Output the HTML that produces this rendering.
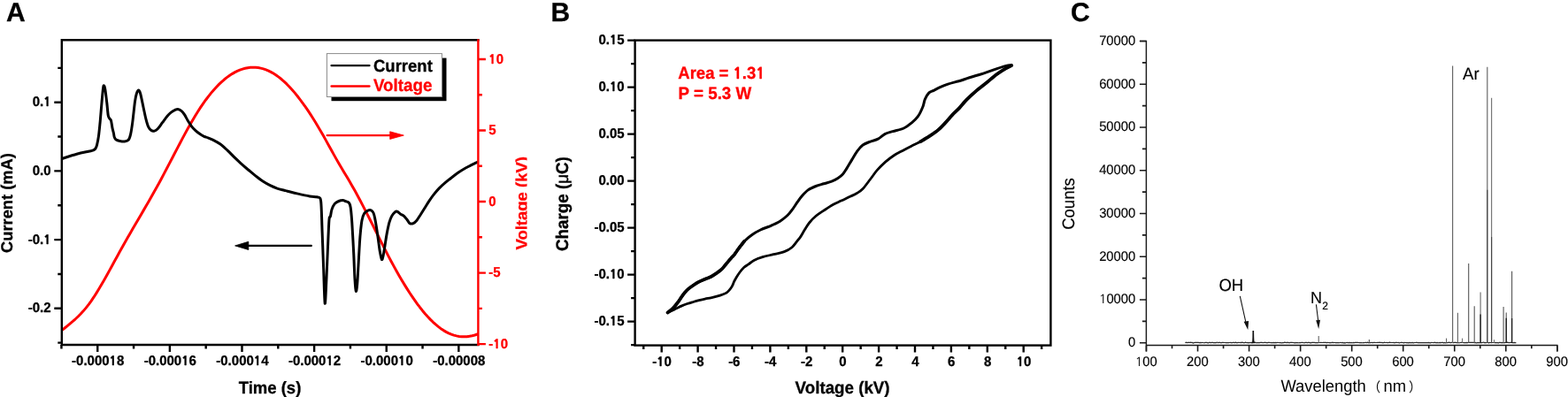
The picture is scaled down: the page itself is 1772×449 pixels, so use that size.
<!DOCTYPE html>
<html><head><meta charset="utf-8"><style>
html,body{margin:0;padding:0;background:#fff;width:1772px;height:449px;overflow:hidden}
svg{display:block}
</style></head><body>
<svg width="1772" height="449" viewBox="0 0 1772 449" text-rendering="geometricPrecision">
<rect width="1772" height="449" fill="#fff"/>
<text transform="translate(7,23.9) scale(1,1.0)" font-family="Liberation Sans, Arial, sans-serif" font-weight="bold" font-size="30" stroke="#000" stroke-width="0.3">A</text>
<clipPath id="ca"><rect x="69.8" y="45.3" width="470.59999999999997" height="344.7"/></clipPath>
<g clip-path="url(#ca)" fill="none" stroke-linejoin="round" stroke-linecap="round">
<path d="M70.5,373.14 L73.45,370.73 L76.4,368.32 L79.35,365.88 L82.3,363.38 L85.25,360.76 L88.2,357.99 L91.15,355.03 L94.1,351.85 L97.05,348.39 L100,344.62 L102.95,340.55 L105.9,336.21 L108.85,331.63 L111.8,326.83 L114.75,321.85 L117.69,316.72 L120.64,311.47 L123.59,306.14 L126.54,300.74 L129.49,295.32 L132.44,289.91 L135.39,284.53 L138.34,279.22 L141.29,273.98 L144.24,268.81 L147.19,263.68 L150.14,258.59 L153.09,253.53 L156.04,248.48 L158.99,243.43 L161.94,238.38 L164.89,233.3 L167.84,228.19 L170.79,223.03 L173.74,217.82 L176.69,212.53 L179.64,207.17 L182.59,201.71 L185.54,196.16 L188.49,190.55 L191.44,184.89 L194.39,179.2 L197.34,173.51 L200.29,167.84 L203.24,162.21 L206.19,156.64 L209.14,151.15 L212.08,145.76 L215.03,140.51 L217.98,135.4 L220.93,130.46 L223.88,125.71 L226.83,121.17 L229.78,116.84 L232.73,112.73 L235.68,108.83 L238.63,105.15 L241.58,101.69 L244.53,98.45 L247.48,95.42 L250.43,92.61 L253.38,90.02 L256.33,87.65 L259.28,85.5 L262.23,83.58 L265.18,81.87 L268.13,80.39 L271.08,79.13 L274.03,78.09 L276.98,77.28 L279.93,76.69 L282.88,76.32 L285.83,76.19 L288.78,76.28 L291.73,76.6 L294.68,77.14 L297.63,77.92 L300.58,78.92 L303.53,80.15 L306.47,81.61 L309.42,83.31 L312.37,85.23 L315.32,87.39 L318.27,89.78 L321.22,92.38 L324.17,95.2 L327.12,98.23 L330.07,101.46 L333.02,104.89 L335.97,108.5 L338.92,112.3 L341.87,116.27 L344.82,120.41 L347.77,124.72 L350.72,129.18 L353.67,133.79 L356.62,138.55 L359.57,143.44 L362.52,148.47 L365.47,153.62 L368.42,158.88 L371.37,164.22 L374.32,169.57 L377.27,174.89 L380.22,180.12 L383.17,185.21 L386.12,190.21 L389.07,195.16 L392.02,200.1 L394.97,205.08 L397.92,210.15 L400.86,215.36 L403.81,220.72 L406.76,226.22 L409.71,231.85 L412.66,237.57 L415.61,243.38 L418.56,249.24 L421.51,255.13 L424.46,261.05 L427.41,266.95 L430.36,272.84 L433.31,278.67 L436.26,284.44 L439.21,290.12 L442.16,295.69 L445.11,301.14 L448.06,306.47 L451.01,311.66 L453.96,316.72 L456.91,321.63 L459.86,326.39 L462.81,330.99 L465.76,335.43 L468.71,339.7 L471.66,343.79 L474.61,347.7 L477.56,351.42 L480.51,354.95 L483.46,358.27 L486.41,361.38 L489.36,364.29 L492.31,366.97 L495.25,369.42 L498.2,371.64 L501.15,373.62 L504.1,375.36 L507.05,376.85 L510,378.09 L512.95,379.1 L515.9,379.87 L518.85,380.41 L521.8,380.72 L524.75,380.81 L527.7,380.68 L530.65,380.32 L533.6,379.76 L536.55,378.98 L539.5,377.99" stroke="#ff0000" stroke-width="3.0"/>
<path d="M69.7,179.6 C72.53,178.7 81.65,175.6 86.7,174.2 C91.75,172.8 97.12,171.83 100,171.2 C102.88,170.57 102.9,170.72 104,170.4 C105.1,170.08 105.9,169.8 106.6,169.3 C107.3,168.8 107.72,168.25 108.2,167.4 C108.68,166.55 108.97,166.38 109.5,164.2 C110.03,162.02 110.78,158.78 111.4,154.3 C112.02,149.82 112.58,143.92 113.2,137.3 C113.82,130.68 114.53,120.9 115.1,114.6 C115.67,108.3 116.18,102.47 116.6,99.5 C117.02,96.53 117.22,96.48 117.6,96.8 C117.98,97.12 118.37,98.12 118.9,101.4 C119.43,104.68 120.23,111.62 120.8,116.5 C121.37,121.38 121.73,127.7 122.3,130.7 C122.87,133.7 123.67,133.57 124.2,134.5 C124.73,135.43 125.03,134.57 125.5,136.3 C125.97,138.03 126.52,142.53 127,144.9 C127.48,147.27 128.02,148.77 128.4,150.5 C128.78,152.23 128.83,154.03 129.3,155.3 C129.77,156.57 130.2,157.4 131.2,158.1 C132.2,158.8 133.68,159.18 135.3,159.5 C136.92,159.82 139.22,160.25 140.9,160 C142.58,159.75 144.27,159.43 145.4,158 C146.53,156.57 146.97,154.72 147.7,151.4 C148.43,148.08 149,144.18 149.8,138.1 C150.6,132.02 151.75,120.25 152.5,114.9 C153.25,109.55 153.62,108.13 154.3,106 C154.98,103.87 155.87,102.1 156.6,102.1 C157.33,102.1 157.78,102.73 158.7,106 C159.62,109.27 161.08,117 162.1,121.7 C163.12,126.4 163.9,130.63 164.8,134.2 C165.7,137.77 166.47,140.87 167.5,143.1 C168.53,145.33 169.82,146.77 171,147.6 C172.18,148.43 173.4,148.4 174.6,148.1 C175.8,147.8 176.72,147.37 178.2,145.8 C179.68,144.23 181.72,141.08 183.5,138.7 C185.28,136.32 187.27,133.43 188.9,131.5 C190.53,129.57 191.82,128.28 193.3,127.1 C194.78,125.92 196.52,125 197.8,124.4 C199.08,123.8 199.82,123.35 201,123.5 C202.18,123.65 203.65,124.27 204.9,125.3 C206.15,126.33 207.32,127.92 208.5,129.7 C209.68,131.48 210.67,133.82 212,136 C213.33,138.18 215.02,140.87 216.5,142.8 C217.98,144.73 219.27,146.12 220.9,147.6 C222.53,149.08 224.67,150.58 226.3,151.7 C227.93,152.82 229.25,153.62 230.7,154.3 C232.15,154.98 233.28,155.12 235,155.8 C236.72,156.48 238.67,157.2 241,158.4 C243.33,159.6 246.32,161.05 249,163 C251.68,164.95 254.42,167.58 257.1,170.1 C259.78,172.62 262.43,175.5 265.1,178.1 C267.77,180.7 270.43,183.3 273.1,185.7 C275.77,188.1 278.43,190.27 281.1,192.5 C283.77,194.73 286.43,197 289.1,199.1 C291.77,201.2 294.42,203.33 297.1,205.1 C299.78,206.87 302.52,208.37 305.2,209.7 C307.88,211.03 310.53,212.18 313.2,213.1 C315.87,214.02 319.23,214.68 321.2,215.2 C323.17,215.72 322.42,215.55 325,216.2 C327.58,216.85 332.53,218.15 336.7,219.1 C340.87,220.05 346.48,221.28 350,221.9 C353.52,222.52 355.82,222.38 357.8,222.8 C359.78,223.22 361.02,222.57 361.9,224.4 C362.78,226.23 362.73,227.55 363.1,233.8 C363.47,240.05 363.68,250.45 364.1,261.9 C364.52,273.35 365.08,288.97 365.6,302.5 C366.12,316.03 366.67,340.5 367.2,343.1 C367.73,345.7 368.28,327.98 368.8,318.1 C369.32,308.22 369.78,295.25 370.3,283.8 C370.82,272.35 371.38,255.92 371.9,249.4 C372.42,242.88 372.88,246.78 373.4,244.7 C373.92,242.62 374.22,239.25 375,236.9 C375.78,234.55 376.8,232.17 378.1,230.6 C379.4,229.03 381.23,228.17 382.8,227.5 C384.37,226.83 386.25,226.6 387.5,226.6 C388.75,226.6 389.17,227.05 390.3,227.5 C391.43,227.95 393.32,228.1 394.3,229.3 C395.28,230.5 395.62,230.92 396.2,234.7 C396.78,238.48 397.22,243.33 397.8,252 C398.38,260.67 399.17,276.03 399.7,286.7 C400.23,297.37 400.57,308.9 401,316 C401.43,323.1 401.85,328.42 402.3,329.3 C402.75,330.18 403.25,326.18 403.7,321.3 C404.15,316.42 404.47,308.88 405,300 C405.53,291.12 406.23,276.45 406.9,268 C407.57,259.55 408.2,253.75 409,249.3 C409.8,244.85 410.58,243.17 411.7,241.3 C412.82,239.43 414.42,238.68 415.7,238.1 C416.98,237.52 418.33,237.32 419.4,237.8 C420.47,238.28 421.35,239.28 422.1,241 C422.85,242.72 423.3,245.13 423.9,248.1 C424.5,251.07 425.1,254.93 425.7,258.8 C426.3,262.67 426.92,267.15 427.5,271.3 C428.08,275.45 428.55,280 429.2,283.7 C429.85,287.4 430.75,292.6 431.4,293.5 C432.05,294.4 432.52,291.62 433.1,289.1 C433.68,286.58 434.22,282.57 434.9,278.4 C435.58,274.23 436.37,268.55 437.2,264.1 C438.03,259.65 439,254.95 439.9,251.7 C440.8,248.45 441.57,246.53 442.6,244.6 C443.63,242.67 445.07,241 446.1,240.1 C447.13,239.2 447.75,238.9 448.8,239.2 C449.85,239.5 451.07,241 452.4,241.9 C453.73,242.8 455.47,243.42 456.8,244.6 C458.13,245.78 459.37,247.67 460.4,249 C461.43,250.33 461.9,252 463,252.6 C464.1,253.2 465.67,253.17 467,252.6 C468.33,252.03 469.67,250.77 471,249.2 C472.33,247.63 473.5,245.53 475,243.2 C476.5,240.87 478.32,237.88 480,235.2 C481.68,232.52 483.42,229.62 485.1,227.1 C486.78,224.58 488.27,222.43 490.1,220.1 C491.93,217.77 493.93,215.33 496.1,213.1 C498.27,210.87 500.77,208.7 503.1,206.7 C505.43,204.7 507.6,203.03 510.1,201.1 C512.6,199.17 515.42,196.95 518.1,195.1 C520.78,193.25 523.68,191.45 526.2,190 C528.72,188.55 530.98,187.5 533.2,186.4 C535.42,185.3 538.45,183.9 539.5,183.4" stroke="#000" stroke-width="3.0"/>
</g>
<path d="M540.4,45.3 L69.8,45.3 L69.8,390.0 L540.4,390.0" fill="none" stroke="#000" stroke-width="2.4" stroke-linecap="square"/>
<line x1="540.4" y1="44.3" x2="540.4" y2="391.0" stroke="#ff0000" stroke-width="2.4"/>
<path d="M61.3,115.7 H69.8 M61.3,193.4 H69.8 M61.3,271.1 H69.8 M61.3,348.8 H69.8 M65.3,76.85 H69.8 M65.3,154.55 H69.8 M65.3,232.25 H69.8 M65.3,309.95 H69.8 M65.3,387.65 H69.8 M110.25,390.0 V398.0 M191.87,390.0 V398.0 M273.49,390.0 V398.0 M355.11,390.0 V398.0 M436.73,390.0 V398.0 M518.35,390.0 V398.0 M69.44,390.0 V394.5 M151.06,390.0 V394.5 M232.68,390.0 V394.5 M314.3,390.0 V394.5 M395.92,390.0 V394.5 M477.54,390.0 V394.5" stroke="#000" stroke-width="2.4"/>
<path d="M540.4,67 H548.9 M540.4,147.53 H548.9 M540.4,228.05 H548.9 M540.4,308.58 H548.9 M540.4,389.1 H548.9 M540.4,107.26 H544.9 M540.4,187.79 H544.9 M540.4,268.31 H544.9 M540.4,348.84 H544.9" stroke="#ff0000" stroke-width="2.4"/>
<text transform="translate(57.6,120.1) scale(1,1.04)" font-family="Liberation Sans, Arial, sans-serif" font-weight="bold" font-size="15" text-anchor="end" stroke="#000" stroke-width="0.3">0.<tspan font-family="NanumGothic, sans-serif" font-weight="800" font-size="13.5" letter-spacing="0.16">1</tspan></text>
<text transform="translate(57.6,197.8) scale(1,1.04)" font-family="Liberation Sans, Arial, sans-serif" font-weight="bold" font-size="15" text-anchor="end" stroke="#000" stroke-width="0.3">0.0</text>
<text transform="translate(57.6,275.5) scale(1,1.04)" font-family="Liberation Sans, Arial, sans-serif" font-weight="bold" font-size="15" text-anchor="end" stroke="#000" stroke-width="0.3">-0.<tspan font-family="NanumGothic, sans-serif" font-weight="800" font-size="13.5" letter-spacing="0.16">1</tspan></text>
<text transform="translate(57.6,353.2) scale(1,1.04)" font-family="Liberation Sans, Arial, sans-serif" font-weight="bold" font-size="15" text-anchor="end" stroke="#000" stroke-width="0.3">-0.2</text>
<text transform="translate(110.65,413.2) scale(1,1.04)" font-family="Liberation Sans, Arial, sans-serif" font-weight="bold" font-size="15" text-anchor="middle" stroke="#000" stroke-width="0.3">-0.000<tspan font-family="NanumGothic, sans-serif" font-weight="800" font-size="13.5" letter-spacing="0.16">1</tspan>8</text>
<text transform="translate(192.27,413.2) scale(1,1.04)" font-family="Liberation Sans, Arial, sans-serif" font-weight="bold" font-size="15" text-anchor="middle" stroke="#000" stroke-width="0.3">-0.000<tspan font-family="NanumGothic, sans-serif" font-weight="800" font-size="13.5" letter-spacing="0.16">1</tspan>6</text>
<text transform="translate(273.89,413.2) scale(1,1.04)" font-family="Liberation Sans, Arial, sans-serif" font-weight="bold" font-size="15" text-anchor="middle" stroke="#000" stroke-width="0.3">-0.000<tspan font-family="NanumGothic, sans-serif" font-weight="800" font-size="13.5" letter-spacing="0.16">1</tspan>4</text>
<text transform="translate(355.51,413.2) scale(1,1.04)" font-family="Liberation Sans, Arial, sans-serif" font-weight="bold" font-size="15" text-anchor="middle" stroke="#000" stroke-width="0.3">-0.000<tspan font-family="NanumGothic, sans-serif" font-weight="800" font-size="13.5" letter-spacing="0.16">1</tspan>2</text>
<text transform="translate(437.13,413.2) scale(1,1.04)" font-family="Liberation Sans, Arial, sans-serif" font-weight="bold" font-size="15" text-anchor="middle" stroke="#000" stroke-width="0.3">-0.000<tspan font-family="NanumGothic, sans-serif" font-weight="800" font-size="13.5" letter-spacing="0.16">1</tspan>0</text>
<text transform="translate(518.75,413.2) scale(1,1.04)" font-family="Liberation Sans, Arial, sans-serif" font-weight="bold" font-size="15" text-anchor="middle" stroke="#000" stroke-width="0.3">-0.00008</text>
<text transform="translate(552.3,71.6) scale(1,1.04)" font-family="Liberation Sans, Arial, sans-serif" font-weight="bold" font-size="15" fill="#ff0000" stroke="#ff0000" stroke-width="0.3"><tspan font-family="NanumGothic, sans-serif" font-weight="800" font-size="13.5" letter-spacing="0.16">1</tspan>0</text>
<text transform="translate(552.3,152.12) scale(1,1.04)" font-family="Liberation Sans, Arial, sans-serif" font-weight="bold" font-size="15" fill="#ff0000" stroke="#ff0000" stroke-width="0.3">5</text>
<text transform="translate(552.3,232.65) scale(1,1.04)" font-family="Liberation Sans, Arial, sans-serif" font-weight="bold" font-size="15" fill="#ff0000" stroke="#ff0000" stroke-width="0.3">0</text>
<text transform="translate(552.3,313.18) scale(1,1.04)" font-family="Liberation Sans, Arial, sans-serif" font-weight="bold" font-size="15" fill="#ff0000" stroke="#ff0000" stroke-width="0.3">-5</text>
<text transform="translate(552.3,393.7) scale(1,1.04)" font-family="Liberation Sans, Arial, sans-serif" font-weight="bold" font-size="15" fill="#ff0000" stroke="#ff0000" stroke-width="0.3">-<tspan font-family="NanumGothic, sans-serif" font-weight="800" font-size="13.5" letter-spacing="0.16">1</tspan>0</text>
<text transform="translate(305,444.8) scale(1,1.04)" font-family="Liberation Sans, Arial, sans-serif" font-weight="bold" font-size="18.5" text-anchor="middle" stroke="#000" stroke-width="0.3">Time (s)</text>
<text transform="translate(14,229.6) rotate(-90) scale(1,1.0)" font-family="Liberation Sans, Arial, sans-serif" font-weight="bold" font-size="18.3" text-anchor="middle" stroke="#000" stroke-width="0.3">Current (mA)</text>
<clipPath id="cv"><rect x="560" y="0" width="35.5" height="449"/></clipPath>
<g clip-path="url(#cv)"><text transform="translate(595.8,229.8) rotate(-90) scale(1,1.0)" font-family="Liberation Sans, Arial, sans-serif" font-weight="bold" font-size="18.5" text-anchor="middle" fill="#ff0000" stroke="#ff0000" stroke-width="0.3">Voltage (kV)</text></g>
<rect x="374.5" y="65.6" width="130" height="48.6" fill="#000"/>
<rect x="369.4" y="60.6" width="130" height="48.9" fill="#fff" stroke="#8a8a8a" stroke-width="1"/>
<line x1="374.6" y1="74.1" x2="417.4" y2="74.1" stroke="#000" stroke-width="2.4" stroke-linecap="round"/>
<line x1="374.6" y1="97.5" x2="417.4" y2="97.5" stroke="#ff0000" stroke-width="2.4" stroke-linecap="round"/>
<text transform="translate(422,80.6) scale(1,1.04)" font-family="Liberation Sans, Arial, sans-serif" font-weight="bold" font-size="18.5" stroke="#000" stroke-width="0.3">Current</text>
<text transform="translate(421.9,103.3) scale(1,1.04)" font-family="Liberation Sans, Arial, sans-serif" font-weight="bold" font-size="18.8" fill="#ff0000" stroke="#ff0000" stroke-width="0.3">Voltage</text>
<line x1="369.6" y1="153.1" x2="442" y2="153.1" stroke="#ff0000" stroke-width="2.3" stroke-linecap="round"/>
<path d="M440.7,148.8 L456.3,153.1 L440.7,157.4 Z" fill="#ff0000" stroke="#ff0000" stroke-width="0.8" stroke-linejoin="round"/>
<line x1="279.5" y1="277.9" x2="351.8" y2="277.9" stroke="#000" stroke-width="2.3" stroke-linecap="round"/>
<path d="M280.8,273.3 L265.6,277.9 L280.8,282.5 Z" fill="#000" stroke="#000" stroke-width="0.8" stroke-linejoin="round"/>
<text transform="translate(622.6,23.9) scale(1,1.0)" font-family="Liberation Sans, Arial, sans-serif" font-weight="bold" font-size="30" stroke="#000" stroke-width="0.3">B</text>
<path d="M754.5,353.6 C755.42,352.85 758.08,351.03 760,349.1 C761.92,347.17 764.33,344.17 766,342 C767.67,339.83 768.67,337.97 770,336.1 C771.33,334.23 772.67,332.37 774,330.8 C775.33,329.23 776.43,328.05 778,326.7 C779.57,325.35 781.4,324.03 783.4,322.7 C785.4,321.37 787.78,319.87 790,318.7 C792.22,317.53 794.47,316.65 796.7,315.7 C798.93,314.75 801.17,314.17 803.4,313 C805.63,311.83 808.1,310.08 810.1,308.7 C812.1,307.32 813.85,306.15 815.4,304.7 C816.95,303.25 818.05,301.6 819.4,300 C820.75,298.4 822.15,296.67 823.5,295.1 C824.85,293.53 826.42,291.82 827.5,290.6 C828.58,289.38 828.77,289.42 830,287.8 C831.23,286.18 833.07,283.37 834.9,280.9 C836.73,278.43 838.55,275.53 841,273 C843.45,270.47 846.53,267.87 849.6,265.7 C852.67,263.53 855.72,261.77 859.4,260 C863.08,258.23 868.02,256.73 871.7,255.1 C875.38,253.47 878.45,252.13 881.5,250.2 C884.55,248.27 887.7,245.67 890,243.5 C892.3,241.33 893.52,239.58 895.3,237.2 C897.08,234.82 898.92,231.72 900.7,229.2 C902.48,226.68 903.92,224.48 906,222.1 C908.08,219.72 910.52,216.83 913.2,214.9 C915.88,212.97 919.13,211.68 922.1,210.5 C925.07,209.32 928.03,208.7 931,207.8 C933.97,206.9 937.23,206.13 939.9,205.1 C942.57,204.07 944.92,202.93 947,201.6 C949.08,200.27 950.77,198.93 952.4,197.1 C954.03,195.27 955.05,193.38 956.8,190.6 C958.55,187.82 960.87,183.73 962.9,180.4 C964.93,177.07 966.97,173.33 969,170.6 C971.03,167.87 972.65,165.75 975.1,164 C977.55,162.25 980.83,161.23 983.7,160.1 C986.57,158.97 989.58,158.62 992.3,157.2 C995.02,155.78 997.23,153.03 1000,151.6 C1002.77,150.17 1005.33,149.7 1008.9,148.6 C1012.47,147.5 1017.83,146.63 1021.4,145 C1024.97,143.37 1027.63,141.02 1030.3,138.8 C1032.97,136.58 1035.32,134.67 1037.4,131.7 C1039.48,128.73 1041.47,124.27 1042.8,121 C1044.13,117.73 1044.22,114.78 1045.4,112.1 C1046.58,109.42 1048.27,106.53 1049.9,104.9 C1051.53,103.27 1053.12,103.33 1055.2,102.3 C1057.28,101.27 1059.72,99.9 1062.4,98.7 C1065.08,97.5 1068.37,96.12 1071.3,95.1 C1074.23,94.08 1077.52,93.28 1080,92.6 C1082.48,91.92 1083.6,91.82 1086.2,91 C1088.8,90.18 1091.43,89.02 1095.6,87.7 C1099.77,86.38 1106,84.78 1111.2,83.1 C1116.4,81.42 1122.12,79.13 1126.8,77.6 C1131.48,76.07 1136.57,74.5 1139.3,73.9 C1142.03,73.3 1142.55,73.98 1143.2,74" fill="none" stroke="#000" stroke-width="3.0" stroke-linejoin="round" stroke-linecap="round"/>
<path d="M754.5,353.6 C756.25,352.77 762.42,349.85 765,348.6 C767.58,347.35 768.05,346.95 770,346.1 C771.95,345.25 774.47,344.27 776.7,343.5 C778.93,342.73 781.18,342.13 783.4,341.5 C785.62,340.87 787.78,340.27 790,339.7 C792.22,339.13 794.47,338.58 796.7,338.1 C798.93,337.62 801.17,337.28 803.4,336.8 C805.63,336.32 807.87,335.83 810.1,335.2 C812.33,334.57 814.92,333.73 816.8,333 C818.68,332.27 820.07,331.73 821.4,330.8 C822.73,329.87 823.78,328.63 824.8,327.4 C825.82,326.17 826.72,324.87 827.5,323.4 C828.28,321.93 828.82,320.05 829.5,318.6 C830.18,317.15 830.58,316.38 831.6,314.7 C832.62,313.02 834.05,310.57 835.6,308.5 C837.15,306.43 839.12,303.93 840.9,302.3 C842.68,300.67 844.43,300.02 846.3,298.7 C848.17,297.38 849.5,295.73 852.1,294.4 C854.7,293.07 858.23,291.82 861.9,290.7 C865.57,289.58 870.02,288.72 874.1,287.7 C878.18,286.68 882.92,285.93 886.4,284.6 C889.88,283.27 892.55,281.75 895,279.7 C897.45,277.65 899.55,274.18 901.1,272.3 C902.65,270.42 902.88,270.53 904.3,268.4 C905.72,266.27 907.82,262.32 909.6,259.5 C911.38,256.68 912.92,254.03 915,251.5 C917.08,248.97 919.43,246.53 922.1,244.3 C924.77,242.07 927.73,240.27 931,238.1 C934.27,235.93 938.43,233.13 941.7,231.3 C944.97,229.47 947.33,228.63 950.6,227.1 C953.87,225.57 958.33,223.53 961.3,222.1 C964.27,220.67 966.1,219.93 968.4,218.5 C970.7,217.07 972.55,216.17 975.1,213.5 C977.65,210.83 981.03,205.97 983.7,202.5 C986.37,199.03 988.23,195.97 991.1,192.7 C993.97,189.43 997.63,185.77 1000.9,182.9 C1004.17,180.03 1007.52,177.58 1010.7,175.5 C1013.88,173.42 1016.78,172.12 1020,170.4 C1023.22,168.68 1026.65,166.9 1030,165.2 C1033.35,163.5 1036.75,162.05 1040.1,160.2 C1043.45,158.35 1046.77,156.28 1050.1,154.1 C1053.43,151.92 1057.1,149.6 1060.1,147.1 C1063.1,144.6 1065.43,141.93 1068.1,139.1 C1070.77,136.27 1073.42,132.93 1076.1,130.1 C1078.78,127.27 1081.47,125 1084.2,122.1 C1086.93,119.2 1089.3,115.95 1092.5,112.7 C1095.7,109.45 1099.77,105.72 1103.4,102.6 C1107.03,99.48 1110.4,97.13 1114.3,94 C1118.2,90.87 1122.9,86.67 1126.8,83.8 C1130.7,80.93 1134.97,78.43 1137.7,76.8 C1140.43,75.17 1142.28,74.47 1143.2,74" fill="none" stroke="#000" stroke-width="2.8" stroke-linejoin="round" stroke-linecap="round"/>
<path d="M754.5,353.6 C755.42,352.85 758.08,351.03 760,349.1 C761.92,347.17 764.33,344.17 766,342 C767.67,339.83 768.67,337.97 770,336.1 C771.33,334.23 772.67,332.37 774,330.8 C775.33,329.23 776.43,328.05 778,326.7 C779.57,325.35 781.4,324.03 783.4,322.7 C785.4,321.37 787.78,319.87 790,318.7 C792.22,317.53 794.47,316.65 796.7,315.7 C798.93,314.75 801.17,314.17 803.4,313 C805.63,311.83 808.1,310.08 810.1,308.7 C812.1,307.32 813.85,306.15 815.4,304.7 C816.95,303.25 818.05,301.6 819.4,300 C820.75,298.4 822.15,296.67 823.5,295.1 C824.85,293.53 826.42,291.82 827.5,290.6 C828.58,289.38 828.77,289.42 830,287.8 C831.23,286.18 833.07,283.37 834.9,280.9 C836.73,278.43 839.98,274.32 841,273" fill="none" stroke="#000" stroke-width="3.7" stroke-linejoin="round" stroke-linecap="round"/>
<path d="M1040.1,160.2 C1041.77,159.18 1046.77,156.28 1050.1,154.1 C1053.43,151.92 1057.1,149.6 1060.1,147.1 C1063.1,144.6 1065.43,141.93 1068.1,139.1 C1070.77,136.27 1073.42,132.93 1076.1,130.1 C1078.78,127.27 1081.47,125 1084.2,122.1 C1086.93,119.2 1089.3,115.95 1092.5,112.7 C1095.7,109.45 1099.77,105.72 1103.4,102.6 C1107.03,99.48 1110.4,97.13 1114.3,94 C1118.2,90.87 1122.9,86.67 1126.8,83.8 C1130.7,80.93 1134.97,78.43 1137.7,76.8 C1140.43,75.17 1142.28,74.47 1143.2,74" fill="none" stroke="#000" stroke-width="3.8" stroke-linejoin="round" stroke-linecap="round"/>
<rect x="717.6" y="45.6" width="469.8" height="345" fill="none" stroke="#000" stroke-width="2.4"/>
<path d="M709.1,45.6 H717.6 M709.1,98.6 H717.6 M709.1,151.6 H717.6 M709.1,204.6 H717.6 M709.1,257.6 H717.6 M709.1,310.6 H717.6 M709.1,363.6 H717.6 M713.1,72.1 H717.6 M713.1,125.1 H717.6 M713.1,178.1 H717.6 M713.1,231.1 H717.6 M713.1,284.1 H717.6 M713.1,337.1 H717.6 M713.1,390.1 H717.6 M747.7,390.6 V398.6 M788.6,390.6 V398.6 M829.5,390.6 V398.6 M870.4,390.6 V398.6 M911.3,390.6 V398.6 M952.2,390.6 V398.6 M993.1,390.6 V398.6 M1034,390.6 V398.6 M1074.9,390.6 V398.6 M1115.8,390.6 V398.6 M1156.7,390.6 V398.6 M727.25,390.6 V395.1 M768.15,390.6 V395.1 M809.05,390.6 V395.1 M849.95,390.6 V395.1 M890.85,390.6 V395.1 M931.75,390.6 V395.1 M972.65,390.6 V395.1 M1013.55,390.6 V395.1 M1054.45,390.6 V395.1 M1095.35,390.6 V395.1 M1136.25,390.6 V395.1 M1177.15,390.6 V395.1" stroke="#000" stroke-width="2.4"/>
<text transform="translate(705.6,50) scale(1,1.04)" font-family="Liberation Sans, Arial, sans-serif" font-weight="bold" font-size="15" text-anchor="end" stroke="#000" stroke-width="0.3">0.<tspan font-family="NanumGothic, sans-serif" font-weight="800" font-size="13.5" letter-spacing="0.16">1</tspan>5</text>
<text transform="translate(705.6,103) scale(1,1.04)" font-family="Liberation Sans, Arial, sans-serif" font-weight="bold" font-size="15" text-anchor="end" stroke="#000" stroke-width="0.3">0.<tspan font-family="NanumGothic, sans-serif" font-weight="800" font-size="13.5" letter-spacing="0.16">1</tspan>0</text>
<text transform="translate(705.6,156) scale(1,1.04)" font-family="Liberation Sans, Arial, sans-serif" font-weight="bold" font-size="15" text-anchor="end" stroke="#000" stroke-width="0.3">0.05</text>
<text transform="translate(705.6,209) scale(1,1.04)" font-family="Liberation Sans, Arial, sans-serif" font-weight="bold" font-size="15" text-anchor="end" stroke="#000" stroke-width="0.3">0.00</text>
<text transform="translate(705.6,262) scale(1,1.04)" font-family="Liberation Sans, Arial, sans-serif" font-weight="bold" font-size="15" text-anchor="end" stroke="#000" stroke-width="0.3">-0.05</text>
<text transform="translate(705.6,315) scale(1,1.04)" font-family="Liberation Sans, Arial, sans-serif" font-weight="bold" font-size="15" text-anchor="end" stroke="#000" stroke-width="0.3">-0.<tspan font-family="NanumGothic, sans-serif" font-weight="800" font-size="13.5" letter-spacing="0.16">1</tspan>0</text>
<text transform="translate(705.6,368) scale(1,1.04)" font-family="Liberation Sans, Arial, sans-serif" font-weight="bold" font-size="15" text-anchor="end" stroke="#000" stroke-width="0.3">-0.<tspan font-family="NanumGothic, sans-serif" font-weight="800" font-size="13.5" letter-spacing="0.16">1</tspan>5</text>
<text transform="translate(748,413.9) scale(1,1.04)" font-family="Liberation Sans, Arial, sans-serif" font-weight="bold" font-size="15" text-anchor="middle" stroke="#000" stroke-width="0.3">-<tspan font-family="NanumGothic, sans-serif" font-weight="800" font-size="13.5" letter-spacing="0.16">1</tspan>0</text>
<text transform="translate(788.9,413.9) scale(1,1.04)" font-family="Liberation Sans, Arial, sans-serif" font-weight="bold" font-size="15" text-anchor="middle" stroke="#000" stroke-width="0.3">-8</text>
<text transform="translate(829.8,413.9) scale(1,1.04)" font-family="Liberation Sans, Arial, sans-serif" font-weight="bold" font-size="15" text-anchor="middle" stroke="#000" stroke-width="0.3">-6</text>
<text transform="translate(870.7,413.9) scale(1,1.04)" font-family="Liberation Sans, Arial, sans-serif" font-weight="bold" font-size="15" text-anchor="middle" stroke="#000" stroke-width="0.3">-4</text>
<text transform="translate(911.6,413.9) scale(1,1.04)" font-family="Liberation Sans, Arial, sans-serif" font-weight="bold" font-size="15" text-anchor="middle" stroke="#000" stroke-width="0.3">-2</text>
<text transform="translate(952.5,413.9) scale(1,1.04)" font-family="Liberation Sans, Arial, sans-serif" font-weight="bold" font-size="15" text-anchor="middle" stroke="#000" stroke-width="0.3">0</text>
<text transform="translate(993.4,413.9) scale(1,1.04)" font-family="Liberation Sans, Arial, sans-serif" font-weight="bold" font-size="15" text-anchor="middle" stroke="#000" stroke-width="0.3">2</text>
<text transform="translate(1034.3,413.9) scale(1,1.04)" font-family="Liberation Sans, Arial, sans-serif" font-weight="bold" font-size="15" text-anchor="middle" stroke="#000" stroke-width="0.3">4</text>
<text transform="translate(1075.2,413.9) scale(1,1.04)" font-family="Liberation Sans, Arial, sans-serif" font-weight="bold" font-size="15" text-anchor="middle" stroke="#000" stroke-width="0.3">6</text>
<text transform="translate(1116.1,413.9) scale(1,1.04)" font-family="Liberation Sans, Arial, sans-serif" font-weight="bold" font-size="15" text-anchor="middle" stroke="#000" stroke-width="0.3">8</text>
<text transform="translate(1157,413.9) scale(1,1.04)" font-family="Liberation Sans, Arial, sans-serif" font-weight="bold" font-size="15" text-anchor="middle" stroke="#000" stroke-width="0.3"><tspan font-family="NanumGothic, sans-serif" font-weight="800" font-size="13.5" letter-spacing="0.16">1</tspan>0</text>
<text transform="translate(952.1,444.8) scale(1,1.04)" font-family="Liberation Sans, Arial, sans-serif" font-weight="bold" font-size="18.75" text-anchor="middle" stroke="#000" stroke-width="0.3">Voltage (kV)</text>
<text transform="translate(642.2,230.6) rotate(-90) scale(1,1.04)" font-family="Liberation Sans, Arial, sans-serif" font-weight="bold" font-size="18.8" text-anchor="middle" stroke="#000" stroke-width="0.3">Charge (<tspan font-weight="normal">μ</tspan>C)</text>
<text transform="translate(766.3,88.6) scale(1,1.04)" font-family="Liberation Sans, Arial, sans-serif" font-weight="bold" font-size="18.5" fill="#ff0000" stroke="#ff0000" stroke-width="0.3">Area = <tspan font-family="NanumGothic, sans-serif" font-weight="800" font-size="16.65" letter-spacing="0.2">1</tspan>.3<tspan font-family="NanumGothic, sans-serif" font-weight="800" font-size="16.65" letter-spacing="0.2">1</tspan></text>
<text transform="translate(766.6,112) scale(1,1.04)" font-family="Liberation Sans, Arial, sans-serif" font-weight="bold" font-size="18.8" fill="#ff0000" stroke="#ff0000" stroke-width="0.3">P = 5.3 W</text>
<text transform="translate(1210,23.9) scale(1,1.0)" font-family="Liberation Sans, Arial, sans-serif" font-weight="bold" font-size="30" stroke="#000" stroke-width="0.3">C</text>
<path d="M1339.4,387.81 L1340.4,387.12 L1341.4,387.56 L1342.4,387.41 L1343.4,387.43 L1344.4,387.47 L1345.4,387.2 L1346.4,387.47 L1347.4,387.37 L1348.4,388 L1349.4,387.53 L1350.4,387.45 L1351.4,387.46 L1352.4,387.4 L1353.4,387.34 L1354.4,387.44 L1355.4,387.57 L1356.4,387.46 L1357.4,387.64 L1358.4,387.47 L1359.4,387.5 L1360.4,387.73 L1361.4,387.58 L1362.4,387.42 L1363.4,387.47 L1364.4,387.58 L1365.4,387.79 L1366.4,387.46 L1367.4,387.46 L1368.4,387.65 L1369.4,387.37 L1370.4,387.46 L1371.4,387.63 L1372.4,387.59 L1373.4,387.51 L1374.4,387.6 L1375.4,387.08 L1376.4,387.65 L1377.4,387.36 L1378.4,387.25 L1379.4,387.54 L1380.4,387.61 L1381.4,387.43 L1382.4,387.34 L1383.4,387.5 L1384.4,387.49 L1385.4,387.71 L1386.4,387.61 L1387.4,387.53 L1388.4,387.67 L1389.4,387.47 L1390.4,387.36 L1391.4,387.59 L1392.4,387.59 L1393.4,387.47 L1394.4,387.38 L1395.4,387.53 L1396.4,387.13 L1397.4,387.6 L1398.4,387.57 L1399.4,387.25 L1400.4,387.51 L1401.4,387.36 L1402.4,387.61 L1403.4,387.19 L1404.4,387.36 L1405.4,387.61 L1406.4,387.67 L1407.4,387.18 L1408.4,387.43 L1409.4,387.55 L1410.4,387.41 L1411.4,387.74 L1412.4,387.32 L1413.4,387.55 L1414.4,387.34 L1415.4,387.71 L1416.4,387.5 L1417.4,387.44 L1418.4,387.24 L1419.4,387.75 L1420.4,387.61 L1421.4,387.61 L1422.4,387.67 L1423.4,387.55 L1424.4,387.4 L1425.4,387.38 L1426.4,387.38 L1427.4,387.71 L1428.4,387.28 L1429.4,387.41 L1430.4,387.45 L1431.4,387.53 L1432.4,387.59 L1433.4,387.31 L1434.4,387.24 L1435.4,387.5 L1436.4,387.68 L1437.4,387.61 L1438.4,387.53 L1439.4,387.45 L1440.4,387.54 L1441.4,387.46 L1442.4,387.62 L1443.4,387.38 L1444.4,387.52 L1445.4,387.48 L1446.4,387.58 L1447.4,387.53 L1448.4,387.88 L1449.4,387.72 L1450.4,387.72 L1451.4,387.19 L1452.4,387.45 L1453.4,387.41 L1454.4,387.58 L1455.4,387.16 L1456.4,387.68 L1457.4,387.66 L1458.4,387.3 L1459.4,387.35 L1460.4,387.38 L1461.4,387.51 L1462.4,387.6 L1463.4,387.81 L1464.4,387.47 L1465.4,387.62 L1466.4,387.52 L1467.4,387.76 L1468.4,387.61 L1469.4,387.71 L1470.4,387.34 L1471.4,387.47 L1472.4,387.38 L1473.4,387.73 L1474.4,387.6 L1475.4,387.45 L1476.4,387.43 L1477.4,387.57 L1478.4,387.39 L1479.4,387.36 L1480.4,387.57 L1481.4,387.87 L1482.4,387.46 L1483.4,387.42 L1484.4,387.32 L1485.4,387.3 L1486.4,387.58 L1487.4,387.63 L1488.4,387.5 L1489.4,387.55 L1490.4,387.52 L1491.4,387.52 L1492.4,387.27 L1493.4,387.43 L1494.4,387.52 L1495.4,387.38 L1496.4,387.43 L1497.4,387.38 L1498.4,387.45 L1499.4,387.63 L1500.4,387.44 L1501.4,387.48 L1502.4,387.62 L1503.4,387.6 L1504.4,387.75 L1505.4,387.19 L1506.4,387.63 L1507.4,387.43 L1508.4,387.52 L1509.4,387.63 L1510.4,387.66 L1511.4,387.66 L1512.4,387.52 L1513.4,387.74 L1514.4,387.46 L1515.4,387.48 L1516.4,387.62 L1517.4,387.42 L1518.4,387.82 L1519.4,387.65 L1520.4,387.83 L1521.4,387.5 L1522.4,387.44 L1523.4,387.53 L1524.4,387.61 L1525.4,387.41 L1526.4,387.56 L1527.4,387.5 L1528.4,387.74 L1529.4,387.4 L1530.4,387.66 L1531.4,387.4 L1532.4,387.36 L1533.4,387.39 L1534.4,387.32 L1535.4,387.52 L1536.4,387.65 L1537.4,387.52 L1538.4,387.59 L1539.4,387.74 L1540.4,387.54 L1541.4,387.53 L1542.4,387.46 L1543.4,387.26 L1544.4,387.61 L1545.4,387.24 L1546.4,387.6 L1547.4,387.5 L1548.4,387.67 L1549.4,387.49 L1550.4,387.38 L1551.4,387.55 L1552.4,387.42 L1553.4,387.47 L1554.4,387.51 L1555.4,387.48 L1556.4,387.47 L1557.4,387.38 L1558.4,387.47 L1559.4,387.18 L1560.4,387.48 L1561.4,387.32 L1562.4,387.67 L1563.4,387.69 L1564.4,387.21 L1565.4,387.52 L1566.4,387.48 L1567.4,387.34 L1568.4,387.58 L1569.4,387.43 L1570.4,387.23 L1571.4,387.46 L1572.4,387.48 L1573.4,387.52 L1574.4,387.32 L1575.4,387.59 L1576.4,387.61 L1577.4,387.33 L1578.4,387.4 L1579.4,387.49 L1580.4,387.42 L1581.4,387.76 L1582.4,387.53 L1583.4,387.35 L1584.4,387.38 L1585.4,387.49 L1586.4,387.84 L1587.4,387.47 L1588.4,387.52 L1589.4,387.58 L1590.4,387.49 L1591.4,387.84 L1592.4,387.42 L1593.4,387.61 L1594.4,387.52 L1595.4,387.59 L1596.4,387.32 L1597.4,387.77 L1598.4,387.48 L1599.4,387.51 L1600.4,387.36 L1601.4,387.39 L1602.4,387.58 L1603.4,387.65 L1604.4,387.61 L1605.4,387.68 L1606.4,387.61 L1607.4,387.5 L1608.4,387.63 L1609.4,387.59 L1610.4,387.48 L1611.4,387.61 L1612.4,387.69 L1613.4,387.54 L1614.4,387.45 L1615.4,387.61 L1616.4,387.79 L1617.4,387.47 L1618.4,387.49 L1619.4,387.48 L1620.4,387.68 L1621.4,387.22 L1622.4,387.55 L1623.4,387.68 L1624.4,387.38 L1625.4,387.72 L1626.4,387.58 L1627.4,387.42 L1628.4,387.53 L1629.4,387.27 L1630.4,387.42 L1631.4,387.77 L1632.4,387.37 L1633.4,387.78 L1634.4,387.49 L1635.4,387.65 L1636.4,387.51 L1637.4,387.16 L1638.4,387.41 L1639.4,387.53 L1640.4,387.33 L1641.4,387.3 L1642.4,387.55 L1643.4,387.4 L1644.4,387.25 L1645.4,387.4 L1646.4,387.63 L1647.4,387.43 L1648.4,387.64 L1649.4,387.73 L1650.4,387.5 L1651.4,387.33 L1652.4,387.3 L1653.4,387.5 L1654.4,387.63 L1655.4,387.54 L1656.4,387.58 L1657.4,387.43 L1658.4,387.55 L1659.4,387.43 L1660.4,387.45 L1661.4,387.31 L1662.4,387.26 L1663.4,387.43 L1664.4,387.33 L1665.4,387.36 L1666.4,387.6 L1667.4,387.48 L1668.4,387.94 L1669.4,387.64 L1670.4,387.41 L1671.4,387.62 L1672.4,387.55 L1673.4,387.4 L1674.4,387.67 L1675.4,387.38 L1676.4,387.04 L1677.4,387.62 L1678.4,387.41 L1679.4,387.72 L1680.4,387.4 L1681.4,387.32 L1682.4,387.73 L1683.4,387.34 L1684.4,387.53 L1685.4,387.72 L1686.4,387.52 L1687.4,387.49 L1688.4,387.52 L1689.4,387.63 L1690.4,387.38 L1691.4,387.59 L1692.4,387.59 L1693.4,387.85 L1694.4,387.45 L1695.4,387.36 L1696.4,387.61 L1697.4,387.44 L1698.4,387.54 L1699.4,387.52 L1700.4,387.68 L1701.4,387.4 L1702.4,387.49 L1703.4,387.12 L1704.4,387.37 L1705.4,387.73 L1706.4,387.4 L1707.4,387.39 L1708.4,387.32 L1709.4,387.59 L1710.4,387.53 L1711.4,387.32 L1712.4,387.6 L1713.4,387.54" fill="none" stroke="#2a2a2a" stroke-width="1.2"/>
<line x1="1416.3" y1="374.0" x2="1416.3" y2="388" stroke="#111" stroke-width="1.6"/>
<line x1="1490.2" y1="380.0" x2="1490.2" y2="388" stroke="#555" stroke-width="1.0"/>
<line x1="1634.6" y1="382.6" x2="1634.6" y2="388" stroke="#555" stroke-width="1.0"/>
<line x1="1641.6" y1="74.6" x2="1641.6" y2="388" stroke="#666" stroke-width="1.2"/>
<line x1="1647.4" y1="353.8" x2="1647.4" y2="388" stroke="#555" stroke-width="1.0"/>
<line x1="1652.6" y1="382.6" x2="1652.6" y2="388" stroke="#666" stroke-width="1.0"/>
<line x1="1659.7" y1="298.0" x2="1659.7" y2="388" stroke="#555" stroke-width="1.1"/>
<line x1="1666.2" y1="346.2" x2="1666.2" y2="388" stroke="#555" stroke-width="1.1"/>
<line x1="1673.1" y1="330.5" x2="1673.1" y2="388" stroke="#666" stroke-width="1.1"/>
<line x1="1680.8" y1="75.7" x2="1680.8" y2="388" stroke="#6a6a6a" stroke-width="1.2"/>
<line x1="1685.6" y1="110.7" x2="1685.6" y2="388" stroke="#777" stroke-width="1.2"/>
<line x1="1688.5" y1="384.3" x2="1688.5" y2="388" stroke="#666" stroke-width="1.0"/>
<line x1="1699.1" y1="347.0" x2="1699.1" y2="388" stroke="#555" stroke-width="1.1"/>
<line x1="1702.2" y1="353.4" x2="1702.2" y2="388" stroke="#555" stroke-width="1.1"/>
<line x1="1708.6" y1="306.8" x2="1708.6" y2="388" stroke="#555" stroke-width="1.1"/>
<line x1="1547.3" y1="384.0" x2="1547.3" y2="388" stroke="#444" stroke-width="1.0"/>
<line x1="1673.1" y1="355.6" x2="1673.1" y2="388" stroke="#111" stroke-width="1.2"/>
<line x1="1702.2" y1="359.7" x2="1702.2" y2="388" stroke="#111" stroke-width="1.2"/>
<line x1="1708.6" y1="360" x2="1708.6" y2="388" stroke="#111" stroke-width="1.2"/>
<line x1="1680.8" y1="214.8" x2="1680.8" y2="388" stroke="#444" stroke-width="1.1"/>
<line x1="1685.6" y1="268" x2="1685.6" y2="388" stroke="#444" stroke-width="1.1"/>
<path d="M1414.4,388 Q1415.9,387 1416.05,381 L1416.4,374 L1416.75,381 Q1416.9,387 1418.4,388 Z" fill="#111" stroke="#111" stroke-width="0.4"/>
<path d="M1287.9,46.4 H1295.4 V397.6 M1295.4,390.4 H1759.8 V397.6" fill="none" stroke="#1a1a1a" stroke-width="1.45"/>
<path d="M1287.9,387.8 H1295.4 M1287.9,339.04 H1295.4 M1287.9,290.28 H1295.4 M1287.9,241.52 H1295.4 M1287.9,192.76 H1295.4 M1287.9,144 H1295.4 M1287.9,95.24 H1295.4 M1287.9,46.48 H1295.4 M1290.9,363.42 H1295.4 M1290.9,314.66 H1295.4 M1290.9,265.9 H1295.4 M1290.9,217.14 H1295.4 M1290.9,168.38 H1295.4 M1290.9,119.62 H1295.4 M1290.9,70.86 H1295.4 M1295.5,390.4 V397.6 M1353.54,390.4 V397.6 M1411.59,390.4 V397.6 M1469.63,390.4 V397.6 M1527.67,390.4 V397.6 M1585.71,390.4 V397.6 M1643.76,390.4 V397.6 M1701.8,390.4 V397.6 M1759.84,390.4 V397.6 M1324.52,390.4 V394.2 M1382.56,390.4 V394.2 M1440.61,390.4 V394.2 M1498.65,390.4 V394.2 M1556.69,390.4 V394.2 M1614.74,390.4 V394.2 M1672.78,390.4 V394.2 M1730.82,390.4 V394.2" stroke="#1a1a1a" stroke-width="1.6"/>
<text transform="translate(1283.3,392.1) scale(1,1.04)" font-family="Liberation Sans, Arial, sans-serif" font-size="14.8" text-anchor="end" stroke="#000" stroke-width="0.15">0</text>
<text transform="translate(1283.3,343.34) scale(1,1.04)" font-family="Liberation Sans, Arial, sans-serif" font-size="14.8" text-anchor="end" stroke="#000" stroke-width="0.15"><tspan font-family="NanumGothic, sans-serif" font-size="13.32" letter-spacing="0.16">1</tspan>0000</text>
<text transform="translate(1283.3,294.58) scale(1,1.04)" font-family="Liberation Sans, Arial, sans-serif" font-size="14.8" text-anchor="end" stroke="#000" stroke-width="0.15">20000</text>
<text transform="translate(1283.3,245.82) scale(1,1.04)" font-family="Liberation Sans, Arial, sans-serif" font-size="14.8" text-anchor="end" stroke="#000" stroke-width="0.15">30000</text>
<text transform="translate(1283.3,197.06) scale(1,1.04)" font-family="Liberation Sans, Arial, sans-serif" font-size="14.8" text-anchor="end" stroke="#000" stroke-width="0.15">40000</text>
<text transform="translate(1283.3,148.3) scale(1,1.04)" font-family="Liberation Sans, Arial, sans-serif" font-size="14.8" text-anchor="end" stroke="#000" stroke-width="0.15">50000</text>
<text transform="translate(1283.3,99.54) scale(1,1.04)" font-family="Liberation Sans, Arial, sans-serif" font-size="14.8" text-anchor="end" stroke="#000" stroke-width="0.15">60000</text>
<text transform="translate(1283.3,50.78) scale(1,1.04)" font-family="Liberation Sans, Arial, sans-serif" font-size="14.8" text-anchor="end" stroke="#000" stroke-width="0.15">70000</text>
<text transform="translate(1295.3,413.8) scale(1,1.04)" font-family="Liberation Sans, Arial, sans-serif" font-size="14.8" text-anchor="middle" stroke="#000" stroke-width="0.15"><tspan font-family="NanumGothic, sans-serif" font-size="13.32" letter-spacing="0.16">1</tspan>00</text>
<text transform="translate(1353.34,413.8) scale(1,1.04)" font-family="Liberation Sans, Arial, sans-serif" font-size="14.8" text-anchor="middle" stroke="#000" stroke-width="0.15">200</text>
<text transform="translate(1411.39,413.8) scale(1,1.04)" font-family="Liberation Sans, Arial, sans-serif" font-size="14.8" text-anchor="middle" stroke="#000" stroke-width="0.15">300</text>
<text transform="translate(1469.43,413.8) scale(1,1.04)" font-family="Liberation Sans, Arial, sans-serif" font-size="14.8" text-anchor="middle" stroke="#000" stroke-width="0.15">400</text>
<text transform="translate(1527.47,413.8) scale(1,1.04)" font-family="Liberation Sans, Arial, sans-serif" font-size="14.8" text-anchor="middle" stroke="#000" stroke-width="0.15">500</text>
<text transform="translate(1585.51,413.8) scale(1,1.04)" font-family="Liberation Sans, Arial, sans-serif" font-size="14.8" text-anchor="middle" stroke="#000" stroke-width="0.15">600</text>
<text transform="translate(1643.56,413.8) scale(1,1.04)" font-family="Liberation Sans, Arial, sans-serif" font-size="14.8" text-anchor="middle" stroke="#000" stroke-width="0.15">700</text>
<text transform="translate(1701.6,413.8) scale(1,1.04)" font-family="Liberation Sans, Arial, sans-serif" font-size="14.8" text-anchor="middle" stroke="#000" stroke-width="0.15">800</text>
<text transform="translate(1759.64,413.8) scale(1,1.04)" font-family="Liberation Sans, Arial, sans-serif" font-size="14.8" text-anchor="middle" stroke="#000" stroke-width="0.15">900</text>
<text transform="translate(1214.4,230.5) rotate(-90) scale(1,1.04)" font-family="Liberation Sans, Arial, sans-serif" font-size="18.5" text-anchor="middle" stroke="#000" stroke-width="0.15">Counts</text>
<text transform="translate(1447.4,443.2) scale(1,1.04)" font-family="Liberation Sans, Noto Sans CJK SC, sans-serif" font-size="18.4">Wavelength<tspan x="98.6" font-size="14.2" dy="-0.3">（</tspan><tspan x="116.0" dy="0.3">nm</tspan><tspan x="144.6" font-size="14.2" dy="-0.3">）</tspan></text>
<text transform="translate(1653,89.9) scale(1,1.04)" font-family="Liberation Sans, Arial, sans-serif" font-size="18.6" stroke="#000" stroke-width="0.15">Ar</text>
<text transform="translate(1377.4,329.2) scale(1,1.04)" font-family="Liberation Sans, Arial, sans-serif" font-size="18.5" stroke="#000" stroke-width="0.15">OH</text>
<text transform="translate(1481,343) scale(1,1.04)" font-family="Liberation Sans, Arial, sans-serif" font-size="18" stroke="#000" stroke-width="0.15">N</text>
<text transform="translate(1494.2,349.6) scale(1,1.04)" font-family="Liberation Sans, Arial, sans-serif" font-size="12" stroke="#000" stroke-width="0.15">2</text>
<line x1="1401.3" y1="334.9" x2="1407.8" y2="364" stroke="#111" stroke-width="1.1"/>
<path d="M1405.6,363.8 L1410.3,373 L1411.1,362.9 Z" fill="#111"/>
<line x1="1487.4" y1="344.4" x2="1489.6" y2="362" stroke="#111" stroke-width="1.1"/>
<path d="M1487.2,362.2 L1490.2,372 L1492,361.7 Z" fill="#111"/>
</svg>
</body></html>
